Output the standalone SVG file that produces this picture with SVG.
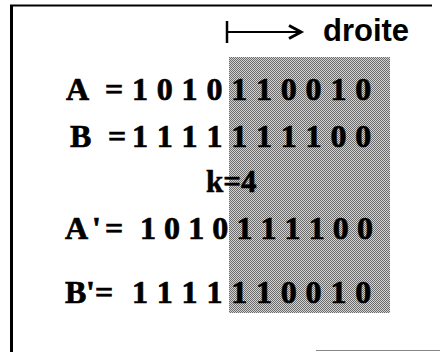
<svg xmlns="http://www.w3.org/2000/svg" width="440" height="352" viewBox="0 0 440 352">
<defs>
<pattern id="ht" width="2" height="2" patternUnits="userSpaceOnUse">
<rect width="2" height="2" fill="#d4d4d4"/>
<rect width="1" height="1" fill="#6a6a6a"/>
<rect x="1" y="1" width="1" height="1" fill="#6a6a6a"/>
</pattern>
</defs>
<style>
.bits{font-family:"Liberation Serif","Times New Roman",serif;font-weight:bold;font-size:32px;fill:#000;stroke:#000;stroke-width:0.7}
.k{font-family:"Liberation Serif","Times New Roman",serif;font-weight:bold;font-size:31px;fill:#000;stroke:#000;stroke-width:0.6}
.lbl{font-family:"Liberation Sans",Arial,sans-serif;font-weight:bold;font-size:31px;fill:#000}
.ln{stroke:#000;fill:none}
</style>
<rect width="440" height="352" fill="#fff"/>
<g id="frame">
<line class="ln" x1="11.5" y1="5" x2="11.5" y2="352" stroke-width="3"/>
<line class="ln" x1="10" y1="5.5" x2="432" y2="5.5" stroke-width="2"/>
<line x1="316" y1="350.5" x2="440" y2="350.5" stroke="#888" stroke-width="1"/>
</g>
<g id="shade">
<rect x="229" y="57" width="161" height="256" fill="url(#ht)"/>
</g>
<g id="connectors">
<line class="ln" x1="227" y1="21" x2="227" y2="43" stroke-width="2.5"/>
<line class="ln" x1="227" y1="32" x2="300" y2="32" stroke-width="2"/>
<polyline class="ln" points="289,25.5 301,32 289,38.5" stroke-width="3"/>
</g>
<g id="droite"><text class="lbl" x="323" y="41">droite</text></g>
<g id="rowA"><text class="bits" x="66 105 132 156.8 181.6 206.4 231.2 256 280.8 305.6 330.4 355.2" y="100">A=1010110010</text></g>
<g id="rowB"><text class="bits" x="70 108 132 156.8 181.6 206.4 231.2 256 280.8 305.6 330.4 355.2" y="147">B=1111111100</text></g>
<g id="k"><text class="k" x="206" y="192">k=4</text></g>
<g id="rowA2"><text class="bits" x="65 92 105 140 164.1 188.2 212.3 236.4 260.5 284.6 308.7 332.8 356.9" y="239">A'=1010111100</text></g>
<g id="rowB2"><text class="bits" x="65 86 95 132 156.8 181.6 206.4 231.2 256 280.8 305.6 330.4 355.2" y="303">B'=1111110010</text></g>
</svg>
